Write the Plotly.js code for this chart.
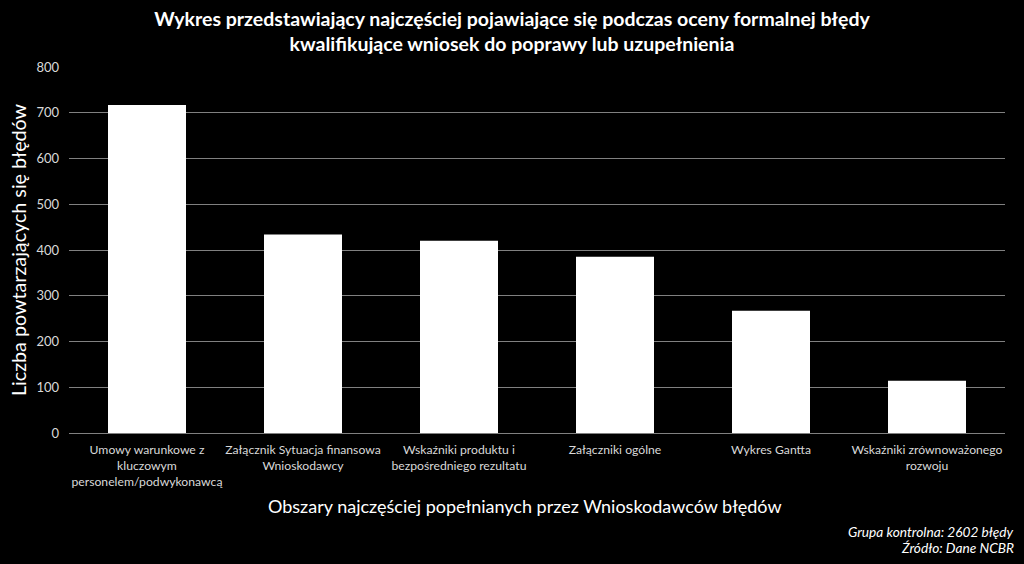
<!DOCTYPE html>
<html>
<head>
<meta charset="utf-8">
<script src="https://cdn.plot.ly/plotly-3.0.1.min.js"></script>
<style>html,body{margin:0;padding:0;background:#000;}#chart{width:1024px;height:564px;}</style>
</head>
<body>
<div id="chart"></div>
<script>
const categories = [
  "Umowy warunkowe z<br>kluczowym<br>personelem/podwykonawcą",
  "Załącznik Sytuacja finansowa<br>Wnioskodawcy",
  "Wskaźniki produktu i<br>bezpośredniego rezultatu",
  "Załączniki ogólne",
  "Wykres Gantta",
  "Wskaźniki zrównoważonego<br>rozwoju"
];
const values = [717, 434, 420, 385, 267, 114];
const yTicks = [0, 100, 200, 300, 400, 500, 600, 700, 800];

const font = "Lato, 'Open Sans', sans-serif";

const data = [{
  type: "bar",
  x: categories,
  y: values,
  marker: {color: "#ffffff"},
  width: 0.5,
  hoverinfo: "x+y"
}];

const layout = {
  width: 1024, height: 564,
  paper_bgcolor: "#000000",
  plot_bgcolor: "#000000",
  margin: {l: 69, r: 19, t: 67, b: 131},
  showlegend: false,
  title: {
    text: "<b>Wykres przedstawiający najczęściej pojawiające się podczas oceny formalnej błędy<br>kwalifikujące wniosek do poprawy lub uzupełnienia</b>",
    font: {family: font, size: 19.5, color: "#ffffff"},
    xref: "container", x: 0.5, xanchor: "center",
    yref: "container", y: 0.954, yanchor: "middle"
  },
  xaxis: {
    type: "category",
    tickangle: 0,
    tickfont: {family: font, size: 12.2, color: "#d9d9d9"},
    showgrid: false,
    showline: false,
    ticks: "",
    ticklabelstandoff: 8,
    automargin: false
  },
  yaxis: {
    range: [0, 800],
    tickvals: yTicks,
    ticktext: yTicks.map(String),
    tickfont: {family: font, size: 13, color: "#d9d9d9"},
    showgrid: true,
    gridcolor: "#808080",
    gridwidth: 1,
    zeroline: true,
    zerolinecolor: "#808080",
    zerolinewidth: 1,
    ticks: "",
    ticklabelstandoff: 9,
    title: {text: "Liczba powtarzających się błędów",
            font: {family: font, size: 19.7, color: "#ffffff"}, standoff: 4},
    automargin: false
  },
  annotations: [
    {text: "Obszary najczęściej popełnianych przez Wnioskodawców błędów", xref: "paper", yref: "paper",
     x: 0.487, y: -0.1995, xanchor: "center", yanchor: "middle", showarrow: false,
     font: {family: font, size: 18, color: "#ffffff"}},
    {text: "<i>Grupa kontrolna: 2602 błędy</i>", xref: "paper", yref: "paper",
     x: 1.012, y: -0.24, xanchor: "right", yanchor: "top", showarrow: false,
     font: {family: font, size: 13.7, color: "#ffffff"}},
    {text: "<i>Źródło: Dane NCBR</i>", xref: "paper", yref: "paper",
     x: 1.012, y: -0.285, xanchor: "right", yanchor: "top", showarrow: false,
     font: {family: font, size: 13.7, color: "#ffffff"}}
  ]
};

Plotly.newPlot("chart", data, layout, {displayModeBar: false, responsive: false});
</script>
</body>
</html>
